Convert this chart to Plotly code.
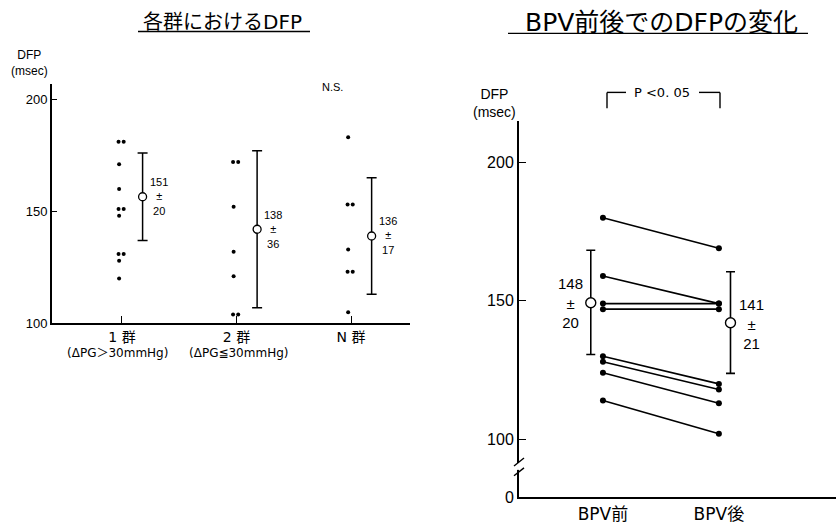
import plotly.graph_objects as go

W, H = 836, 529

# ---------------- data: left panel (各群におけるDFP) ----------------
groups = ["1 群", "2 群", "N 群"]
group_sub = ["(ΔPG＞30mmHg)", "(ΔPG≦30mmHg)", ""]
g1_vals = [181, 181, 171, 160, 151, 151, 148, 131, 131, 128, 120]
g2_vals = [172, 172, 152, 132, 121, 104, 104]
gN_vals = [183, 153, 153, 133, 123, 123, 105]
group_mean_drawn = [156.5, 142, 139]
group_bar_low = [137, 107, 113]
group_bar_high = [176, 177, 165]
group_labels = ["151<br>±<br>20", "138<br>±<br>36", "136<br>±<br>17"]

# ---------------- data: right panel (BPV前後でのDFPの変化) ----------------
phases = ["BPV前", "BPV後"]
pre_vals = [180, 159, 149, 147, 130, 128, 124, 114]
post_vals = [169, 149, 149, 147, 120, 118, 113, 102]
phase_mean_drawn = [149.3, 142.1]
phase_bar_low = [130.6, 123.8]
phase_bar_high = [168.3, 160.5]
phase_labels = ["148<br>±<br>20", "141<br>±<br>21"]
right_tick_vals = [79, 100, 150, 200]
right_tick_text = ["0", "100", "150", "200"]
left_tick_vals = [100, 150, 200]

FONT = "Liberation Sans, Arial, sans-serif"
JFONT = "DejaVu Sans, Noto Sans CJK JP, sans-serif"


def px(x):
    return x / W


def py(y):
    return 1 - y / H


fig = go.Figure()

# left dots with small side-by-side offsets for duplicates
for gi, vals in enumerate([g1_vals, g2_vals, gN_vals]):
    xs, ys = [], []
    seen = {}
    for v in vals:
        k = seen.get(v, 0)
        seen[v] = k + 1
        dup = vals.count(v) > 1
        off = (-0.03 if k == 0 else 0.015) if dup else -0.025
        xs.append(gi + 1 + off)
        ys.append(v)
    fig.add_trace(go.Scatter(x=xs, y=ys, mode="markers", xaxis="x", yaxis="y",
                             marker=dict(color="black", size=4), showlegend=False,
                             hoverinfo="skip"))

# left mean ± SD
gx = [i + 1.18 for i in range(len(groups))]
fig.add_trace(go.Scatter(
    x=gx, y=group_mean_drawn, mode="markers", xaxis="x", yaxis="y",
    marker=dict(symbol="circle", color="white", size=8, line=dict(color="black", width=1.3)),
    error_y=dict(type="data", symmetric=False,
                 array=[h - m for h, m in zip(group_bar_high, group_mean_drawn)],
                 arrayminus=[m - l for m, l in zip(group_mean_drawn, group_bar_low)],
                 color="black", thickness=1.5, width=5),
    showlegend=False, hoverinfo="skip"))

# right paired lines
for a, b in zip(pre_vals, post_vals):
    fig.add_trace(go.Scatter(x=[1, 2], y=[a, b], mode="lines+markers", xaxis="x2", yaxis="y2",
                             line=dict(color="black", width=1.6),
                             marker=dict(color="black", size=6), showlegend=False,
                             hoverinfo="skip"))

# right mean ± SD
fig.add_trace(go.Scatter(
    x=[1 - 0.105, 2 + 0.10], y=phase_mean_drawn, mode="markers", xaxis="x2", yaxis="y2",
    marker=dict(symbol="circle", color="white", size=10, line=dict(color="black", width=1.4)),
    error_y=dict(type="data", symmetric=False,
                 array=[h - m for h, m in zip(phase_bar_high, phase_mean_drawn)],
                 arrayminus=[m - l for m, l in zip(phase_mean_drawn, phase_bar_low)],
                 color="black", thickness=1.6, width=4.5),
    showlegend=False, hoverinfo="skip"))


def ptext(x, y, text, size, family=FONT):
    return dict(x=px(x), y=py(y), xref="paper", yref="paper", text=text, showarrow=False,
                xanchor="center", yanchor="middle", font=dict(family=family, size=size, color="black"))


annotations = []
# labels next to left means
for i, t in enumerate(group_labels):
    annotations.append(dict(x=gx[i], y=group_mean_drawn[i], xref="x", yref="y", text=t,
                            showarrow=False, xanchor="left", yanchor="middle", xshift=5,
                            font=dict(family=FONT, size=11, color="black"), align="center"))
# labels near right means
annotations.append(dict(x=1 - 0.105, y=phase_mean_drawn[0], xref="x2", yref="y2",
                        text=phase_labels[0], showarrow=False, xanchor="right",
                        yanchor="middle", xshift=-6,
                        font=dict(family=FONT, size=15, color="black"), align="center"))
annotations.append(dict(x=2 + 0.10, y=phase_mean_drawn[1], xref="x2", yref="y2",
                        text=phase_labels[1], showarrow=False, xanchor="left",
                        yanchor="middle", xshift=7, yshift=-1,
                        font=dict(family=FONT, size=15, color="black"), align="center"))
# group sub labels
annotations.append(ptext(117, 359, group_sub[0], 12, JFONT))
annotations.append(ptext(238, 359, group_sub[1], 12, JFONT))

# titles
annotations.append(ptext(223, 22, "各群におけるDFP", 20, JFONT))
annotations.append(ptext(661, 23, "BPV前後でのDFPの変化", 25, JFONT))
# axis titles
annotations.append(ptext(29, 64, "DFP<br>(msec)", 12))
annotations.append(ptext(495, 105, "DFP<br>(msec)", 14))
annotations.append(ptext(332, 88, "N.S.", 11))
annotations.append(ptext(662, 94, "P <0. 05", 13, JFONT))

LINE = dict(color="black", width=1.4)
shapes = [
    # title underlines
    dict(type="line", xref="paper", yref="paper", x0=px(138), x1=px(310), y0=py(32), y1=py(32),
         line=LINE),
    dict(type="line", xref="paper", yref="paper", x0=px(508), x1=px(808), y0=py(34), y1=py(34),
         line=LINE),
    # P bracket
    dict(type="line", xref="paper", yref="paper", x0=px(607), x1=px(607), y0=py(110), y1=py(94), line=LINE),
    dict(type="line", xref="paper", yref="paper", x0=px(607), x1=px(626), y0=py(94), y1=py(94), line=LINE),
    dict(type="line", xref="paper", yref="paper", x0=px(699), x1=px(720), y0=py(94), y1=py(94), line=LINE),
    dict(type="line", xref="paper", yref="paper", x0=px(720), x1=px(720), y0=py(94), y1=py(110), line=LINE),
    # axis break on right y axis
    dict(type="rect", xref="paper", yref="paper", x0=px(515), x1=px(523), y0=py(478), y1=py(471),
         fillcolor="white", line=dict(width=0), layer="above"),
    dict(type="line", xref="paper", yref="paper", x0=px(514), x1=px(524), y0=py(474), y1=py(466),
         line=LINE, layer="above"),
    dict(type="line", xref="paper", yref="paper", x0=px(514), x1=px(524), y0=py(484), y1=py(476),
         line=LINE, layer="above"),
]

fig.update_layout(
    width=W, height=H, margin=dict(l=0, r=0, t=0, b=0),
    paper_bgcolor="white", plot_bgcolor="white",
    font=dict(family=FONT, color="black"),
    annotations=annotations, shapes=shapes,
    xaxis=dict(domain=[px(52), px(410)], range=[0.389, 3.515], tickvals=[1, 2, 3],
               ticktext=groups, ticks="inside", ticklen=7, tickwidth=1.2, tickcolor="black",
               showline=True, linecolor="black", linewidth=2, showgrid=False, zeroline=False,
               tickfont=dict(family=JFONT, size=14, color="black"), anchor="y"),
    yaxis=dict(domain=[py(329), py(85)], range=[100, 207], tickvals=left_tick_vals,
               ticks="inside", ticklen=5, tickwidth=1.2, tickcolor="black",
               showline=True, linecolor="black", linewidth=2, showgrid=False, zeroline=False,
               tickfont=dict(family=FONT, size=13, color="black"), anchor="x"),
    xaxis2=dict(domain=[px(519), 1.0], range=[0.276, 3.01], tickvals=[1, 2],
                ticktext=phases, ticks="", showline=True, linecolor="black", linewidth=2,
                showgrid=False, zeroline=False,
                tickfont=dict(family=JFONT, size=17, color="black"), anchor="y2"),
    yaxis2=dict(domain=[py(506), py(123)], range=[79, 215], tickvals=right_tick_vals,
                ticktext=right_tick_text, ticks="inside", ticklen=7, tickwidth=1.2,
                tickcolor="black", showline=True, linecolor="black", linewidth=2,
                showgrid=False, zeroline=False,
                tickfont=dict(family=FONT, size=16, color="black"), anchor="x2"),
)

# remove the default 8px page margin so the 836x529 figure fills the window exactly
fig.write_html("out.html", config={"displayModeBar": False},
               post_script="document.body.style.margin='0';"
                           "document.documentElement.style.overflow='hidden';")
